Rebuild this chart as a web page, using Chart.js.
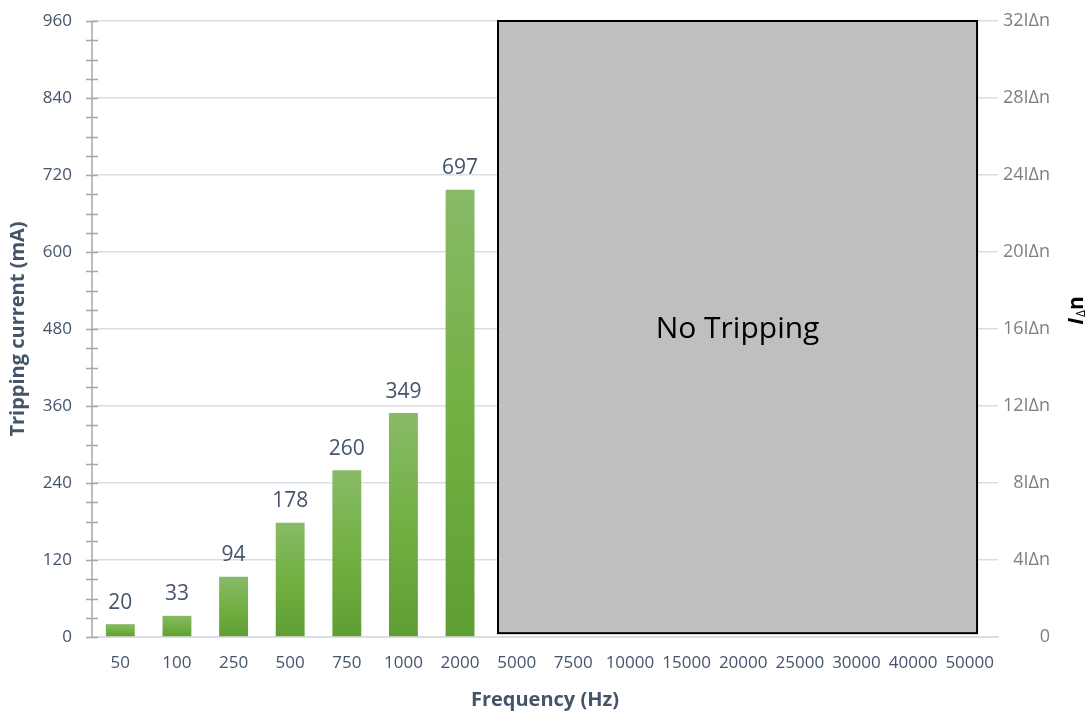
<!DOCTYPE html>
<html>
<head>
<meta charset="utf-8">
<script src="https://cdn.jsdelivr.net/npm/chart.js@4.4.1/dist/chart.umd.min.js"></script>
<style>
  html, body { margin: 0; padding: 0; background: #ffffff; }
  #wrap { width: 1090px; height: 712px; position: relative; }
</style>
</head>
<body>
<div id="wrap"><canvas id="c" width="1090" height="712"></canvas></div>
<script>
// ---- data ----
const categories = ['50','100','250','500','750','1000','2000','5000','7500','10000','15000','20000','25000','30000','40000','50000'];
const trippingCurrent = [20, 33, 94, 178, 260, 349, 697, null, null, null, null, null, null, null, null, null];
const leftTicks = [0, 120, 240, 360, 480, 600, 720, 840, 960];
const rightTickLabels = ['0','4IΔn','8IΔn','12IΔn','16IΔn','20IΔn','24IΔn','28IΔn','32IΔn'];
const noTripRegion = { fromIndex: 6.67, toIndex: 15.13, low: 6, high: 960, label: 'No Tripping' };

const FONT = "'Open Sans', 'Liberation Sans', sans-serif";
const TXT = '#44546A';

const barGradient = (ctx) => {
  const chart = ctx.chart;
  const ys = chart.scales && chart.scales.y;
  if (!ys || !chart.chartArea || ctx.raw == null) return '#70AD47';
  const top = ys.getPixelForValue(ctx.raw);
  const bottom = ys.getPixelForValue(0);
  if (!isFinite(top) || !isFinite(bottom) || top === bottom) return '#70AD47';
  const g = chart.ctx.createLinearGradient(0, top, 0, bottom);
  g.addColorStop(0, '#88BA67');
  g.addColorStop(0.5, '#72B043');
  g.addColorStop(1, '#5F9E33');
  return g;
};

const overlayPlugin = {
  id: 'overlay',
  afterDatasetsDraw(chart) {
    const { ctx, scales: { x, y } } = chart;
    // gray region
    const l = x.getPixelForValue(noTripRegion.fromIndex);
    const r = x.getPixelForValue(noTripRegion.toIndex);
    const t = y.getPixelForValue(noTripRegion.high);
    const b = y.getPixelForValue(noTripRegion.low);
    ctx.save();
    ctx.fillStyle = '#BFBFBF';
    ctx.fillRect(l, t, r - l, b - t);
    ctx.strokeStyle = '#000000';
    ctx.lineWidth = 2;
    ctx.strokeRect(l, t, r - l, b - t);
    ctx.fillStyle = '#000000';
    ctx.font = "30px " + FONT;
    ctx.textAlign = 'center';
    ctx.textBaseline = 'middle';
    ctx.fillText(noTripRegion.label, (l + r) / 2, y.getPixelForValue(480));
    ctx.restore();

    // data labels
    const meta = chart.getDatasetMeta(0);
    ctx.save();
    ctx.fillStyle = TXT;
    ctx.font = "21px " + FONT;
    ctx.textAlign = 'center';
    ctx.textBaseline = 'bottom';
    meta.data.forEach((bar, i) => {
      const v = trippingCurrent[i];
      if (v === null) return;
      ctx.fillText(String(v), bar.x, bar.y - 11);
    });
    ctx.restore();

    // left axis line and tick marks
    const ax = chart.chartArea.left;
    ctx.save();
    ctx.strokeStyle = '#A6A6A6';
    ctx.lineWidth = 1.5;
    ctx.beginPath();
    ctx.moveTo(ax, y.getPixelForValue(960));
    ctx.lineTo(ax, y.getPixelForValue(0));
    for (let v = 0; v <= 960; v += 30) {
      const py = Math.round(y.getPixelForValue(v)) + 0.5;
      ctx.moveTo(ax - 6, py);
      ctx.lineTo(ax + 6, py);
    }
    ctx.stroke();
    ctx.restore();

    // right axis title  I_Δ n (rotated, reading bottom to top)
    const cy = (chart.chartArea.top + chart.chartArea.bottom) / 2;
    ctx.save();
    ctx.translate(1077, cy - 18);
    ctx.rotate(-Math.PI / 2);
    ctx.fillStyle = '#000000';
    ctx.textBaseline = 'middle';
    ctx.textAlign = 'left';
    ctx.font = "italic bold 21px " + FONT;
    const w1 = ctx.measureText('I').width;
    ctx.font = "12px " + FONT;
    const w2 = ctx.measureText('Δ').width;
    ctx.font = "bold 21px " + FONT;
    const w3 = ctx.measureText('n').width;
    let sx = -(w1 + w2 + w3) / 2;
    ctx.font = "italic bold 21px " + FONT;
    ctx.fillText('I', sx, 0);
    sx += w1 + 1;
    ctx.font = "12px " + FONT;
    ctx.fillText('Δ', sx, 5);
    sx += w2;
    ctx.font = "bold 21px " + FONT;
    ctx.fillText('n', sx, 0);
    ctx.restore();
  }
};

new Chart(document.getElementById('c'), {
  type: 'bar',
  data: {
    labels: categories,
    datasets: [{
      data: trippingCurrent,
      backgroundColor: barGradient,
      borderWidth: 0,
      barPercentage: 0.51,
      categoryPercentage: 1.0,
      yAxisID: 'y'
    }]
  },
  options: {
    responsive: false,
    animation: false,
    events: [],
    layout: { padding: { top: 21, right: 40, left: 0, bottom: 0 } },
    plugins: { legend: { display: false }, tooltip: { enabled: false } },
    scales: {
      x: {
        offset: true,
        grid: { display: false, drawTicks: false },
        border: { display: true, color: '#D9DEE6', width: 2 },
        ticks: { color: TXT, font: { family: FONT, size: 17 }, padding: 16, maxRotation: 0, autoSkip: false },
        title: { display: true, text: 'Frequency (Hz)', color: TXT, font: { family: FONT, size: 20, weight: 'bold' }, padding: { top: 4, bottom: 0 } },
        afterFit: (s) => { s.height = 75; s.paddingLeft = 0; s.paddingRight = 0; }
      },
      y: {
        position: 'left',
        min: 0, max: 960,
        afterBuildTicks: (s) => { s.ticks = leftTicks.map(v => ({ value: v })); },
        grid: { color: '#D9DEE6', lineWidth: 1.5, drawTicks: false },
        border: { display: false },
        ticks: { color: TXT, font: { family: FONT, size: 17 }, padding: 20 },
        title: { display: true, text: 'Tripping current (mA)', color: TXT, font: { family: FONT, size: 20, weight: 'bold' }, padding: { top: 6, bottom: 0 } },
        afterFit: (s) => { s.width = 92; s.paddingTop = 0; s.paddingBottom = 0; }
      },
      y2: {
        position: 'right',
        min: 0, max: 32,
        afterBuildTicks: (s) => { s.ticks = rightTickLabels.map((_, i) => ({ value: i * 4 })); },
        grid: { display: false, drawTicks: false },
        border: { display: false },
        ticks: {
          color: '#7F7F7F',
          font: { family: FONT, size: 18 },
          crossAlign: 'far',
          padding: 4,
          callback: (v, i) => rightTickLabels[i]
        },
        afterFit: (s) => { s.width = 52; s.paddingTop = 0; s.paddingBottom = 0; }
      }
    }
  },
  plugins: [overlayPlugin]
});
</script>
</body>
</html>
